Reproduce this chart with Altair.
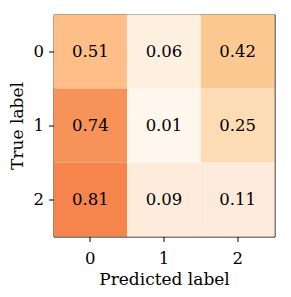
import altair as alt
import pandas as pd

true_labels = ["0", "0", "0", "1", "1", "1", "2", "2", "2"]
pred_labels = ["0", "1", "2", "0", "1", "2", "0", "1", "2"]
values = [0.51, 0.06, 0.42, 0.74, 0.01, 0.25, 0.81, 0.09, 0.11]

color_stops = [0.0, 0.06, 0.11, 0.25, 0.42, 0.51, 0.74, 0.81]
color_range = ["#fff7ef", "#fef0e0", "#fdeada", "#fddcb5", "#fcc992", "#fdbe87", "#f79258", "#f5854d"]

df = pd.DataFrame({"true": true_labels, "pred": pred_labels, "v": values})
df["label"] = df["v"].map(lambda x: f"{x:.2f}")

FONT = "DejaVu Serif"
FS = 16.5
order = ["0", "1", "2"]

x = alt.X("pred:N", sort=order, title="Predicted label",
          axis=alt.Axis(labelAngle=0, domain=False, tickColor="black", tickSize=5,
                        labelFontSize=FS, titleFontSize=FS + 0.5, labelColor="black",
                        titleColor="black", labelFont=FONT, titleFont=FONT,
                        titleFontWeight="normal", labelPadding=9, titlePadding=4))
y = alt.Y("true:N", sort=order, title="True label",
          axis=alt.Axis(domain=False, tickColor="black", tickSize=5,
                        labelFontSize=FS, titleFontSize=FS + 0.5, labelColor="black",
                        titleColor="black", labelFont=FONT, titleFont=FONT,
                        titleFontWeight="normal", labelPadding=5, titlePadding=7))

rect = alt.Chart(df).mark_rect().encode(
    x=x, y=y,
    color=alt.Color("v:Q", scale=alt.Scale(domain=color_stops, range=color_range), legend=None),
)
text = alt.Chart(df).mark_text(font=FONT, fontSize=FS, color="black").encode(
    x=alt.X("pred:N", sort=order), y=alt.Y("true:N", sort=order), text="label:N"
)

chart = (rect + text).properties(
    width=221, height=222,
    autosize=alt.AutoSizeParams(type="none"),
    padding={"left": 45.5, "top": 6.5, "right": 8, "bottom": 52},
).configure_view(stroke="black", strokeWidth=1).configure_scale(bandPaddingInner=0, bandPaddingOuter=0)

chart.save("out.html", embed_options={"renderer": "svg", "actions": False})
